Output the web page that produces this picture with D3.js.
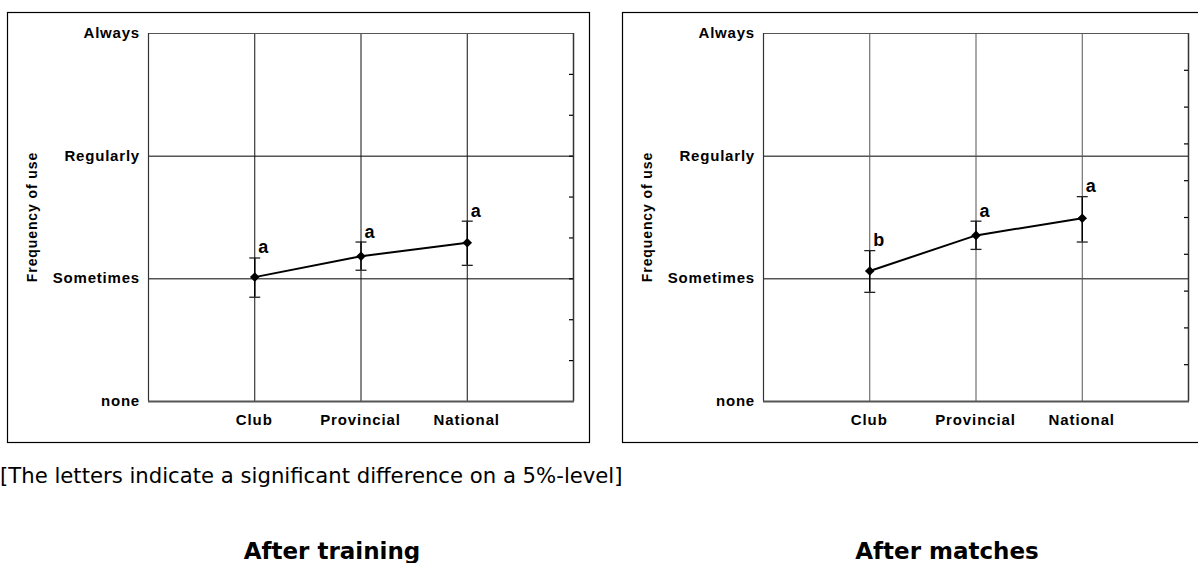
<!DOCTYPE html>
<html lang="en">
<head>
  <meta charset="UTF-8" />
  <title>Frequency of use</title>
  <script src="https://d3js.org/d3.v7.min.js"></script>
  <style>
    body { margin: 0; padding: 0; background: #fff; }
    svg { display: block; }
    .lbl { font-family: "Liberation Sans", Arial, sans-serif; font-weight: bold; fill: #000; }
    .caption { font-family: "DejaVu Sans", Tahoma, sans-serif; fill: #000; }
  </style>
</head>
<body>
<div id="chart"></div>
<script>
  // ---- data (values on a 0..3 scale: none, Sometimes, Regularly, Always)
  const categories = ["Club", "Provincial", "National"];
  const levels = ["none", "Sometimes", "Regularly", "Always"];

  const trainingMean = [1.01, 1.18, 1.29];
  const trainingLow = [0.85, 1.07, 1.11];
  const trainingHigh = [1.17, 1.30, 1.47];
  const trainingLetters = ["a", "a", "a"];

  const matchesMean = [1.06, 1.35, 1.49];
  const matchesLow = [0.89, 1.24, 1.30];
  const matchesHigh = [1.23, 1.47, 1.67];
  const matchesLetters = ["b", "a", "a"];

  const width = 1198, height = 563;

  const svg = d3.select("#chart").append("svg")
    .attr("width", width)
    .attr("height", height);

  svg.append("rect").attr("width", width).attr("height", height).attr("fill", "#fff");

  function drawPanel(ox, mean, low, high, letters, minorStep, gridColor, title) {
    // outer frame
    svg.append("rect")
      .attr("x", ox + 0.5).attr("y", 12.5)
      .attr("width", 582).attr("height", 430)
      .attr("fill", "none").attr("stroke", "#000").attr("stroke-width", 1.2);

    const left = ox + 141, right = ox + 566, top = 33, bottom = 401;

    const x = d3.scalePoint().domain(categories).range([left, right]).padding(1);
    const y = d3.scaleLinear().domain([0, 3]).range([bottom, top]);

    const g = svg.append("g");

    // horizontal grid lines at each level
    g.selectAll(".hgrid").data(d3.range(1, 3)).enter().append("line")
      .attr("x1", left).attr("x2", right)
      .attr("y1", d => y(d) + 0.5).attr("y2", d => y(d) + 0.5)
      .attr("stroke", "#000").attr("stroke-width", 1);

    // vertical grid lines at each category
    g.selectAll(".vgrid").data(categories).enter().append("line")
      .attr("x1", d => x(d) + 0.5).attr("x2", d => x(d) + 0.5)
      .attr("y1", top).attr("y2", bottom)
      .attr("stroke", gridColor).attr("stroke-width", 1);

    // plot border
    g.append("line").attr("x1", left).attr("x2", right).attr("y1", top + 0.5).attr("y2", top + 0.5)
      .attr("stroke", "#555").attr("stroke-width", 1.2);
    g.append("line").attr("x1", right + 0.5).attr("x2", right + 0.5).attr("y1", top).attr("y2", bottom)
      .attr("stroke", "#333").attr("stroke-width", 1.5);
    g.append("line").attr("x1", left + 0.5).attr("x2", left + 0.5).attr("y1", top).attr("y2", bottom)
      .attr("stroke", "#333").attr("stroke-width", 1.2);
    g.append("line").attr("x1", left).attr("x2", right + 1).attr("y1", bottom + 0.5).attr("y2", bottom + 0.5)
      .attr("stroke", "#555").attr("stroke-width", 2.2);

    // minor ticks on the right axis (inward)
    const minor = d3.range(3 - minorStep, 0.01, -minorStep);
    g.selectAll(".mtick").data(minor).enter().append("line")
      .attr("x1", right - 4).attr("x2", right)
      .attr("y1", d => y(d) + 0.5).attr("y2", d => y(d) + 0.5)
      .attr("stroke", "#000").attr("stroke-width", 1.2);

    // y-axis level labels
    g.selectAll(".ylab").data(levels).enter().append("text")
      .attr("class", "lbl")
      .attr("x", left - 8).attr("y", (d, i) => y(i) + 5)
      .attr("text-anchor", "end").attr("font-size", 15).attr("letter-spacing", 0.8)
      .text(d => d);

    // y-axis title
    g.append("text").attr("class", "lbl")
      .attr("transform", `translate(${ox + 30},${217}) rotate(-90)`)
      .attr("text-anchor", "middle").attr("font-size", 14).attr("letter-spacing", 0.9)
      .text("Frequency of use");

    // category labels
    g.selectAll(".xlab").data(categories).enter().append("text")
      .attr("class", "lbl")
      .attr("x", d => x(d)).attr("y", 425)
      .attr("text-anchor", "middle").attr("font-size", 15).attr("letter-spacing", 0.9)
      .text(d => d);

    const pts = categories.map((c, i) => ({ c, m: mean[i], lo: low[i], hi: high[i], t: letters[i] }));

    // error bars
    g.selectAll(".eb").data(pts).enter().append("line")
      .attr("x1", d => x(d.c) + 0.5).attr("x2", d => x(d.c) + 0.5)
      .attr("y1", d => y(d.lo)).attr("y2", d => y(d.hi))
      .attr("stroke", "#000").attr("stroke-width", 1.5);
    ["lo", "hi"].forEach(k => {
      g.selectAll(".cap-" + k).data(pts).enter().append("line")
        .attr("x1", d => x(d.c) - 5).attr("x2", d => x(d.c) + 6)
        .attr("y1", d => y(d[k]) + 0.5).attr("y2", d => y(d[k]) + 0.5)
        .attr("stroke", "#222").attr("stroke-width", 1.3);
    });

    // mean line
    g.append("path").datum(pts)
      .attr("d", d3.line().x(d => x(d.c) + 0.5).y(d => y(d.m)))
      .attr("fill", "none").attr("stroke", "#000").attr("stroke-width", 2);

    // diamond markers
    g.selectAll(".pt").data(pts).enter().append("path")
      .attr("transform", d => `translate(${x(d.c) + 0.5},${y(d.m)}) rotate(45)`)
      .attr("d", d3.symbol().type(d3.symbolSquare).size(46))
      .attr("fill", "#000");

    // significance letters
    g.selectAll(".sig").data(pts).enter().append("text")
      .attr("class", "lbl")
      .attr("x", d => x(d.c) + 4).attr("y", d => y(d.hi) - 4)
      .attr("font-size", 18)
      .text(d => d.t);

    // panel title under the charts
    svg.append("text").attr("class", "caption")
      .attr("x", ox + 325).attr("y", 559)
      .attr("text-anchor", "middle").attr("font-size", 23).attr("font-weight", "bold")
      .text(title);
  }

  drawPanel(7, trainingMean, trainingLow, trainingHigh, trainingLetters, 1 / 3, "#111", "After training");
  drawPanel(622, matchesMean, matchesLow, matchesHigh, matchesLetters, 0.3, "#555", "After matches");

  svg.append("text").attr("class", "caption")
    .attr("x", 0).attr("y", 483)
    .attr("font-size", 21.2)
    .text("[The letters indicate a significant difference on a 5%-level]");
</script>
</body>
</html>
